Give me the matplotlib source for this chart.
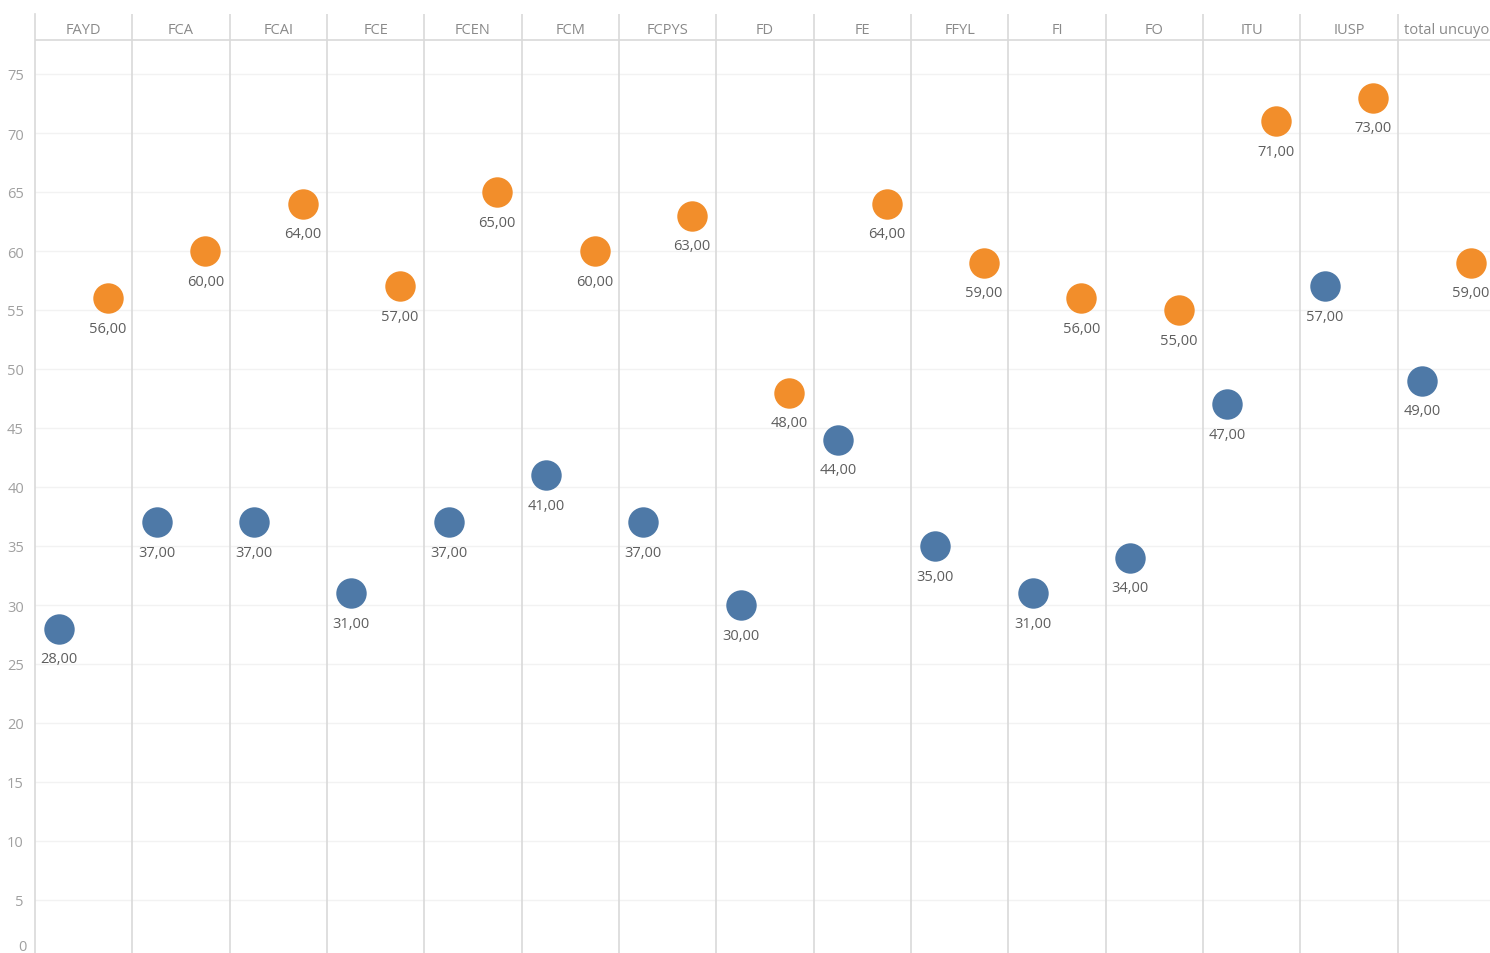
import matplotlib.pyplot as plt
import numpy as np

plt.rcParams['font.family'] = ['Open Sans', 'DejaVu Sans']

facultades = ["FAYD", "FCA", "FCAI", "FCE", "FCEN", "FCM", "FCPYS", "FD", "FE",
              "FFYL", "FI", "FO", "ITU", "IUSP", "total uncuyo"]
azul = [28, 37, 37, 31, 37, 41, 37, 30, 44, 35, 31, 34, 47, 57, 49]
naranja = [56, 60, 64, 57, 65, 60, 63, 48, 64, 59, 56, 55, 71, 73, 59]

col_azul = "#4e79a7"
col_naranja = "#f28e2b"

W, H = 1490, 954
fig = plt.figure(figsize=(W / 100, H / 100), dpi=100)
ax = fig.add_axes([35 / W, 0, 1 - 35 / W, (H - 15) / H])

# escala en pixeles: 75 -> 75 px, 11.8 px por unidad
px = 11.8
y0 = 75 + 75 * px
y_top = (y0 - 15) / px
y_bot = (y0 - 954) / px
y_head = (y0 - 41) / px
y_text = (y0 - 30) / px

n = len(facultades)
x = np.arange(n) * 2
ax.set_xlim(0, 2 * n - 0.1)
ax.set_ylim(y_bot, y_top)

for v in range(0, 80, 5):
    ax.axhline(v, color="#f2f2f2", lw=1, zorder=0)
for i in range(1, n):
    ax.axvline(2 * i, color="#d9d9d9", lw=1.2, zorder=1)
ax.axhline(y_head, color="#d9d9d9", lw=1.2, zorder=1)

ax.scatter(x + 0.5, azul, s=480, color=col_azul, zorder=3, linewidths=0)
ax.scatter(x + 1.5, naranja, s=480, color=col_naranja, zorder=3, linewidths=0)

for i in range(n):
    ax.text(x[i] + 0.5, azul[i] - 2.55, f"{azul[i]:.2f}".replace(".", ","),
            ha="center", va="center", fontsize=10.5, color="#5e5e5e", zorder=4)
    ax.text(x[i] + 1.5, naranja[i] - 2.55, f"{naranja[i]:.2f}".replace(".", ","),
            ha="center", va="center", fontsize=10.5, color="#5e5e5e", zorder=4)
    ax.text(x[i] + 1, y_text, facultades[i], ha="center", va="center",
            fontsize=10.5, color="#8a8a8a")

ax.set_yticks(range(5, 80, 5))
ax.set_xticks([])
ax.tick_params(axis="y", length=0, pad=8, labelsize=10.5, labelcolor="#a0a0a0")
# el 0 queda cortado en el borde inferior
fig.text(27 / W, 1 - 948 / H, "0", ha="right", va="center",
         fontsize=10.5, color="#a0a0a0")
for s in ["top", "right", "bottom"]:
    ax.spines[s].set_visible(False)
ax.spines["left"].set_color("#d9d9d9")
ax.spines["left"].set_linewidth(1.2)

fig.savefig("out.png", dpi=100)
